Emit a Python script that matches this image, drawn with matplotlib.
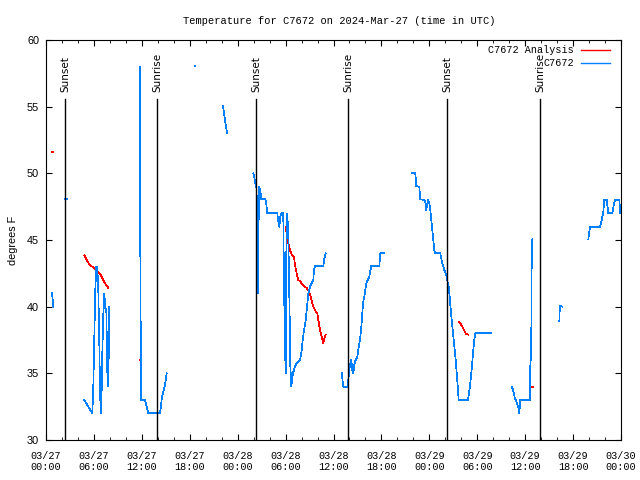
import numpy as np
import pandas as pd
import matplotlib
matplotlib.use("Agg")
import matplotlib.pyplot as plt
import matplotlib.dates as mdates

# --- DATA (hours after 2024-03-27 00:00 UTC, degrees F; NaN = gap) ---
nan = np.nan
start = pd.Timestamp("2024-03-27 00:00")

obs_hours = [
    0.75, 0.83, 0.92, nan,
    2.35, 2.60, nan,
    4.80, 5.00, 5.20, 5.40, 5.60, 5.80, 5.92, 6.05, 6.17, 6.30, 6.42, 6.55, 6.67,
    6.76, 6.85, 6.92, 7.05, 7.18, 7.30, 7.43, 7.55, 7.68, 7.80, 7.93, nan,
    11.75, 11.80, 11.90, 12.40, 12.81, 14.28, 14.52, 14.90, 15.11, nan,
    18.60, 18.72, nan,
    22.16, 22.29, 22.41, 22.54, 22.70, nan,
    25.96, 26.08, 26.21, 26.33, 26.46, 26.52, 26.58, 26.65, 26.83, 26.96, 27.46,
    27.58, 27.71, 28.96, 29.09, 29.21, 29.34, 29.46, 29.71, 29.76, 29.89, 30.01,
    30.09, 30.21, 30.34, 30.43, 30.52, 30.59, 30.72, 30.84, 30.97, 31.18, 31.39,
    31.81, 32.02, 32.14, 32.31, 32.52, 32.64, 32.85, 33.06, 33.27, 33.47, 33.56,
    33.68, 34.72, 34.85, 35.02, nan,
    37.03, 37.23, 37.73, 37.85, 37.98, 38.10, 38.23, 38.35, 38.48, 38.60, 38.73,
    38.98, 39.11, 39.23, 39.36, 39.48, 39.61, 39.73, 39.86, 39.98, 40.11, 40.23,
    40.48, 40.61, 40.73, 41.74, 41.86, 42.36, nan,
    45.87, 46.24, 46.37, 46.74, 46.87, 47.37, 47.50, 47.62, 47.75, 47.87, 48.00,
    48.12, 48.25, 48.37, 48.50, 48.62, 48.75, 49.37, 49.50, 49.62, 49.75, 49.87,
    50.05, 50.18, 50.30, 50.43, 50.55, 50.68, 50.80, 50.93, 51.05, 51.18, 51.30,
    51.43, 51.55, 51.68, 52.84, 53.09, 53.34, 53.50, 53.63, 53.75, 55.68, nan,
    58.35, 58.48, 58.60, 58.73, 58.85, 58.98, 59.10, 59.23, 59.27, 59.39, 60.64,
    60.65, 60.77, 60.78, 60.90, nan,
    64.28, 64.29, 64.40, 64.65, nan,
    67.91, 68.12, 69.37, 69.58, 69.78, 69.91, 70.21, 70.41, 70.91, 71.12, 71.25,
    71.79, 71.92,
]
obs_temp = [
    41.0, 40.5, 40.0, nan,
    48.1, 48.1, nan,
    33.0, 32.8, 32.6, 32.4, 32.2, 32.0, 33.9, 37.5, 41.2, 43.0, 43.0, 41.2, 37.5,
    33.9, 32.0, 32.0, 36.5, 39.5, 41.0, 39.9, 39.8, 35.1, 34.0, 40.0, nan,
    58.0, 45.5, 33.0, 33.0, 32.0, 32.0, 33.2, 34.1, 35.0, nan,
    58.05, 58.05, nan,
    55.05, 54.5, 54.0, 53.5, 53.0, nan,
    50.0, 49.7, 49.25, 49.05, 47.1, 43.0, 41.0, 49.0, 48.75, 48.05, 48.05,
    47.75, 47.0, 47.0, 46.4, 46.0, 46.75, 47.0, 47.0, 44.0, 38.0, 35.0,
    44.0, 47.0, 45.4, 42.1, 38.9, 35.6, 34.0, 34.75, 35.1, 35.5, 35.75,
    36.0, 36.75, 37.5, 38.25, 39.0, 39.75, 41.0, 41.5, 41.75, 42.0, 42.75,
    43.05, 43.05, 43.6, 44.0, nan,
    35.0, 34.0, 34.0, 34.5, 35.25, 35.7, 36.0, 35.25, 35.0, 35.6, 35.95,
    36.25, 36.75, 37.25, 37.75, 38.45, 39.55, 40.4, 40.75, 41.25, 41.7, 41.95,
    42.2, 42.7, 43.05, 43.05, 44.0, 44.0, nan,
    50.0, 50.0, 49.05, 49.0, 48.05, 48.0, 47.8, 47.25, 47.7, 48.0, 47.75,
    47.25, 46.5, 45.75, 45.0, 44.25, 44.0, 44.0, 43.6, 43.25, 43.0, 42.75,
    42.5, 42.25, 41.75, 41.5, 40.75, 39.75, 39.0, 38.25, 37.5, 36.75, 36.0,
    35.0, 34.0, 33.0, 33.0, 34.0, 35.5, 36.75, 37.5, 38.0, 38.0, nan,
    33.95, 33.75, 33.45, 33.1, 32.95, 32.75, 32.5, 32.25, 32.0, 33.0, 33.0,
    36.0, 36.0, 42.0, 45.05, nan,
    38.95, 39.5, 40.05, 40.0, nan,
    45.05, 46.0, 46.0, 46.5, 47.05, 48.05, 48.0, 47.0, 47.0, 47.75, 48.0,
    48.0, 47.0,
]

ana_hours = [
    0.70, 0.90, nan,
    4.80, 5.10, 5.51, 5.92, 6.35, 6.76, 6.97, 7.39, 7.80, nan,
    11.72, 11.82, nan,
    30.01, 30.14, 30.34, 30.55, 30.77, 31.05, 31.18, 31.39, 31.59, 31.81, 32.22,
    32.64, 32.93, 33.15, 33.47, 33.81, 33.97, 34.10, 34.31, 34.52, 34.72, 34.85,
    35.02, nan,
    51.72, 52.05, 52.34, 52.59, 52.88, nan,
    60.86, 60.94,
]
ana_temp = [
    51.6, 51.6, nan,
    43.85, 43.5, 43.1, 42.95, 42.7, 42.45, 42.25, 41.75, 41.4, nan,
    36.0, 36.0, nan,
    46.0, 45.5, 44.75, 44.25, 43.9, 43.75, 43.1, 42.5, 42.0, 41.9, 41.6,
    41.4, 41.1, 40.75, 40.0, 39.6, 39.5, 39.0, 38.25, 37.75, 37.25, 37.6,
    37.9, nan,
    38.85, 38.6, 38.25, 37.95, 37.9, nan,
    34.0, 34.0,
]

sun_hours = [2.38, 13.90, 26.30, 37.82, 50.21, 61.86]
sun_labels = ["Sunset", "Sunrise", "Sunset", "Sunrise", "Sunset", "Sunrise"]


def to_time(hours):
    return start + pd.to_timedelta(np.nan_to_num(np.array(hours, dtype=float), nan=0.0), unit="h")


def series(hours, temps):
    t = to_time(hours)
    v = np.array(temps, dtype=float)
    v[np.isnan(np.array(hours, dtype=float))] = np.nan
    return t, v


mono = "Liberation Mono"
sans = "Liberation Sans"

fig = plt.figure(figsize=(6.4, 4.8), dpi=100)
ax = fig.add_axes([46 / 640, 40 / 480, 575 / 640, 400 / 480])

t_ana, v_ana = series(ana_hours, ana_temp)
t_obs, v_obs = series(obs_hours, obs_temp)
ax.plot(t_ana, v_ana, color="#ff0000", linewidth=0.5, antialiased=False)
ax.plot(t_obs, v_obs, color="#0080ff", linewidth=0.5, antialiased=False)

# sunrise / sunset markers
for h, lab in zip(sun_hours, sun_labels):
    t = start + pd.Timedelta(hours=h)
    ax.plot([t, t], [30, 55.6], color="black", linewidth=1.0, zorder=5)
    ax.text(t, 56.1, lab, rotation=90, ha="center", va="bottom",
            fontsize=7.5, family="DejaVu Sans", zorder=6)

ax.set_xlim(start, start + pd.Timedelta(hours=72))
ax.set_ylim(30, 60)
ax.set_yticks(np.arange(30, 61, 5))

ax.xaxis.set_major_locator(mdates.HourLocator(byhour=[0, 6, 12, 18]))
ax.xaxis.set_minor_locator(mdates.HourLocator(interval=2))
ax.xaxis.set_major_formatter(mdates.DateFormatter("%m/%d\n%H:%M"))

ax.tick_params(axis="both", which="both", direction="in", top=True, right=True)
ax.tick_params(axis="x", which="major", length=4, pad=8)
ax.tick_params(axis="x", which="minor", length=2)
ax.tick_params(axis="y", which="major", length=4, pad=5)
for lbl in ax.get_xticklabels():
    lbl.set_family(mono)
    lbl.set_fontsize(7.3)
    lbl.set_linespacing(1.1)
for lbl in ax.get_yticklabels():
    lbl.set_family(sans)
    lbl.set_fontsize(7.8)

ax.set_ylabel("degrees F", family=sans, fontsize=7.8, labelpad=6)

fig.text(339 / 640, 1 - 20.5 / 480, "Temperature for C7672 on 2024-Mar-27 (time in UTC)",
         ha="center", va="center", family=mono, fontsize=7.5)

# gnuplot style key, right aligned text
key = [("C7672 Analysis", "#ff0000", 0.975), ("C7672", "#0080ff", 0.9425)]
for lab, col, y in key:
    ax.text(0.918, y, lab, transform=ax.transAxes, ha="right", va="center",
            family=mono, fontsize=7.3, zorder=7)
    ax.plot([0.930, 0.980], [y, y], transform=ax.transAxes, color=col,
            linewidth=1.0, clip_on=False)

fig.savefig("out.png", dpi=100)
